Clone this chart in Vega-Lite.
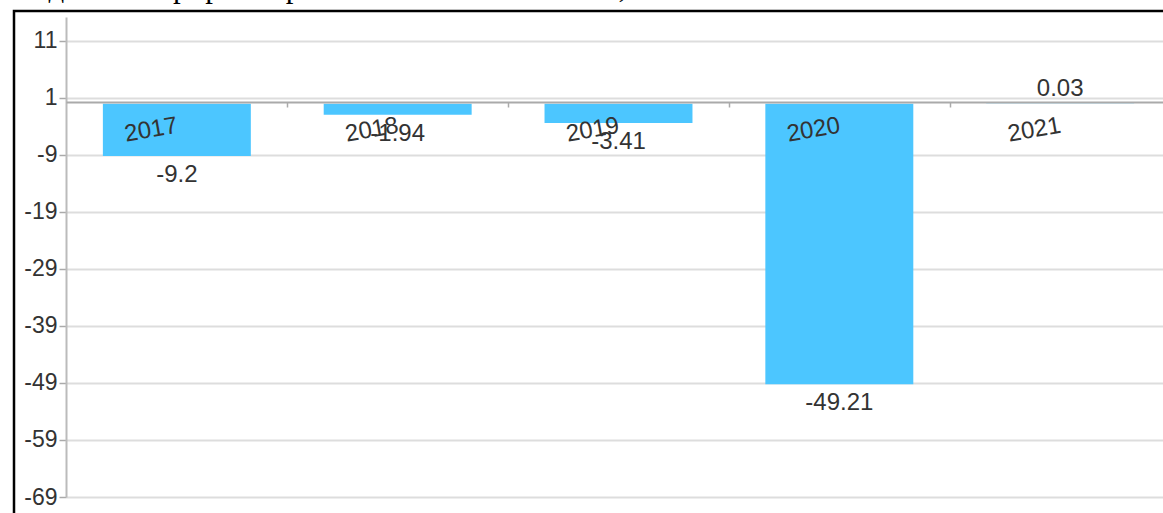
{
  "$schema": "https://vega.github.io/schema/vega-lite/v6.json",
  "autosize": "none",
  "width": 1165,
  "height": 510,
  "padding": {"left": 14, "top": 11, "right": 0, "bottom": 0},
  "background": "white",
  "title": {
    "text": "Сведения о приросте расчетной стоимости пая, %",
    "anchor": "start",
    "frame": "group",
    "font": "Liberation Serif",
    "fontSize": 31,
    "fontWeight": "normal",
    "color": "#000",
    "baseline": "alphabetic",
    "offset": 6,
    "dx": -14,
    "dy": 23
  },
  "config": {
    "view": {"stroke": "#000", "strokeWidth": 2.5},
    "axis": {"labelFont": "Liberation Sans", "labelFontSize": 23, "labelColor": "#333", "titleFont": "Liberation Sans"}
  },
  "data": {
    "values": [
      {"year": "2017", "value": -9.2},
      {"year": "2018", "value": -1.94},
      {"year": "2019", "value": -3.41},
      {"year": "2020", "value": -49.21},
      {"year": "2021", "value": 0.03}
    ]
  },
  "encoding": {
    "x": {
      "field": "year",
      "type": "nominal",
      "sort": null,
      "scale": {"range": [52, 1157], "paddingInner": 0.33, "paddingOuter": 0.167},
      "axis": {
        "orient": "bottom",
        "offset": -419,
        "title": null,
        "zindex": 1,
        "tickOffset": 110.5,
        "labelOffset": -110.5,
        "labelAngle": -10,
        "labelAlign": "right",
        "labelBaseline": "middle",
        "labelPadding": 18,
        "labelOverlap": false,
        "labelFontSize": 24,
        "tickSize": 5,
        "tickColor": "#aaa",
        "tickWidth": 1.5,
        "domainColor": "#aaa",
        "domainWidth": 2,
        "grid": false
      }
    },
    "y": {
      "field": "value",
      "type": "quantitative",
      "scale": {"domain": [-69, 15.2], "range": [486, 6], "nice": false},
      "axis": {
        "values": [11, 1, -9, -19, -29, -39, -49, -59, -69],
        "labelExpr": "'' + datum.value",
        "offset": -52,
        "title": null,
        "labelPadding": 2,
        "labelOverlap": false,
        "tickSize": 7,
        "tickColor": "#aaa",
        "tickWidth": 1.5,
        "domainColor": "#bbb",
        "domainWidth": 2,
        "gridColor": "#ddd",
        "gridWidth": 2
      }
    }
  },
  "layer": [
    {"mark": {"type": "bar", "color": "#4cc6ff"}},
    {
      "transform": [{"filter": "datum.value < 0"}],
      "mark": {"type": "text", "baseline": "middle", "dy": 19, "font": "Liberation Sans", "fontSize": 24, "color": "#333"},
      "encoding": {"text": {"field": "value", "type": "nominal"}}
    },
    {
      "transform": [{"filter": "datum.value >= 0"}],
      "mark": {"type": "text", "baseline": "middle", "dy": -14, "font": "Liberation Sans", "fontSize": 24, "color": "#333"},
      "encoding": {"text": {"field": "value", "type": "nominal"}}
    }
  ]
}
